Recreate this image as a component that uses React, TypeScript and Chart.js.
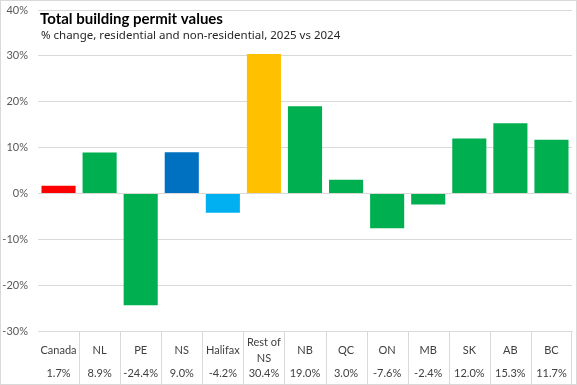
import React, { useEffect, useRef } from "react";
import { Chart, registerables } from "chart.js";

Chart.register(...registerables);

const categories = ["Canada", "NL", "PE", "NS", "Halifax", "Rest of\nNS", "NB", "QC", "ON", "MB", "SK", "AB", "BC"];
const values = [1.7, 8.9, -24.4, 9.0, -4.2, 30.4, 19.0, 3.0, -7.6, -2.4, 12.0, 15.3, 11.7];
const valueLabels = ["1.7%", "8.9%", "-24.4%", "9.0%", "-4.2%", "30.4%", "19.0%", "3.0%", "-7.6%", "-2.4%", "12.0%", "15.3%", "11.7%"];
const barColors = ["#FF0000", "#00B050", "#00B050", "#0070C0", "#00B0F0", "#FFC000", "#00B050", "#00B050", "#00B050", "#00B050", "#00B050", "#00B050", "#00B050"];
const titleText = "Total building permit values";
const subtitleText = "% change, residential and non-residential, 2025 vs 2024";

const GRID = "#d9d9d9";
const LABEL_FONT = "Lato, 'Noto Sans', sans-serif";

const tablePlugin = {
  id: "tablePlugin",
  afterDraw(chart: any) {
    const ctx = chart.ctx;
    const x = chart.scales.x;
    const area = chart.chartArea;
    const W = chart.width;
    const H = chart.height;
    ctx.save();
    // outer border
    ctx.strokeStyle = GRID;
    ctx.lineWidth = 1;
    ctx.strokeRect(0.5, 0.5, W - 1, H - 1);
    // vertical separators
    const n = categories.length;
    for (let i = 0; i < n; i++) {
      const px = Math.round((x.getPixelForValue(i) + x.getPixelForValue(Math.min(i + 1, n - 1))) / 2) + 0.5;
      const edge = i === n - 1 ? Math.round(area.right) - 0.5 : px;
      ctx.beginPath();
      ctx.moveTo(edge, area.bottom);
      ctx.lineTo(edge, H);
      ctx.stroke();
    }
    // labels
    ctx.fillStyle = "#404040";
    ctx.font = `11px ${LABEL_FONT}`;
    ctx.textAlign = "center";
    ctx.textBaseline = "middle";
    for (let i = 0; i < n; i++) {
      const cx = x.getPixelForValue(i);
      const lines = categories[i].split("\n");
      const lh = 16;
      const mid = area.bottom + 19;
      lines.forEach((ln, j) => {
        ctx.fillText(ln, cx, mid - ((lines.length - 1) * lh) / 2 + j * lh);
      });
      ctx.fillText(valueLabels[i], cx, area.bottom + 42);
    }
    // title
    ctx.textAlign = "left";
    ctx.textBaseline = "middle";
    ctx.fillStyle = "#000000";
    ctx.font = "bold 15px Lato, 'Noto Sans', sans-serif";
    ctx.fillText(titleText, 40, 19);
    ctx.fillStyle = "#262626";
    ctx.font = "11.5px 'Noto Sans', sans-serif";
    ctx.fillText(subtitleText, 41, 36);
    ctx.restore();
  },
};

export default function App() {
  const ref = useRef<HTMLCanvasElement>(null);
  useEffect(() => {
    document.body.style.margin = "0";
    const chart = new Chart(ref.current!, {
      type: "bar",
      data: {
        labels: categories,
        datasets: [
          {
            data: values,
            backgroundColor: barColors,
            borderWidth: 0,
            barPercentage: 0.83,
            categoryPercentage: 1,
          },
        ],
      },
      options: {
        animation: false,
        responsive: false,
        layout: { padding: { top: 10, right: 5, left: 0, bottom: 0 } },
        plugins: { legend: { display: false }, tooltip: { enabled: false }, title: { display: false } },
        scales: {
          x: {
            grid: { display: false, drawTicks: false },
            border: { display: true, color: GRID },
            ticks: { display: false },
            afterFit: (s: any) => {
              s.height = 54;
            },
          },
          y: {
            min: -30,
            max: 40,
            ticks: {
              stepSize: 10,
              padding: 3,
              color: "#595959",
              font: { size: 11, family: LABEL_FONT },
              callback: (v: any) => `${v}%`,
            },
            grid: { color: GRID, drawTicks: true, tickLength: 7, tickColor: "rgba(0,0,0,0)" },
            border: { display: false },
            afterFit: (s: any) => {
              s.width = 38;
            },
          },
        },
      },
      plugins: [tablePlugin],
    });
    return () => chart.destroy();
  }, []);
  return <canvas ref={ref} width={577} height={385} style={{ display: "block" }} />;
}
